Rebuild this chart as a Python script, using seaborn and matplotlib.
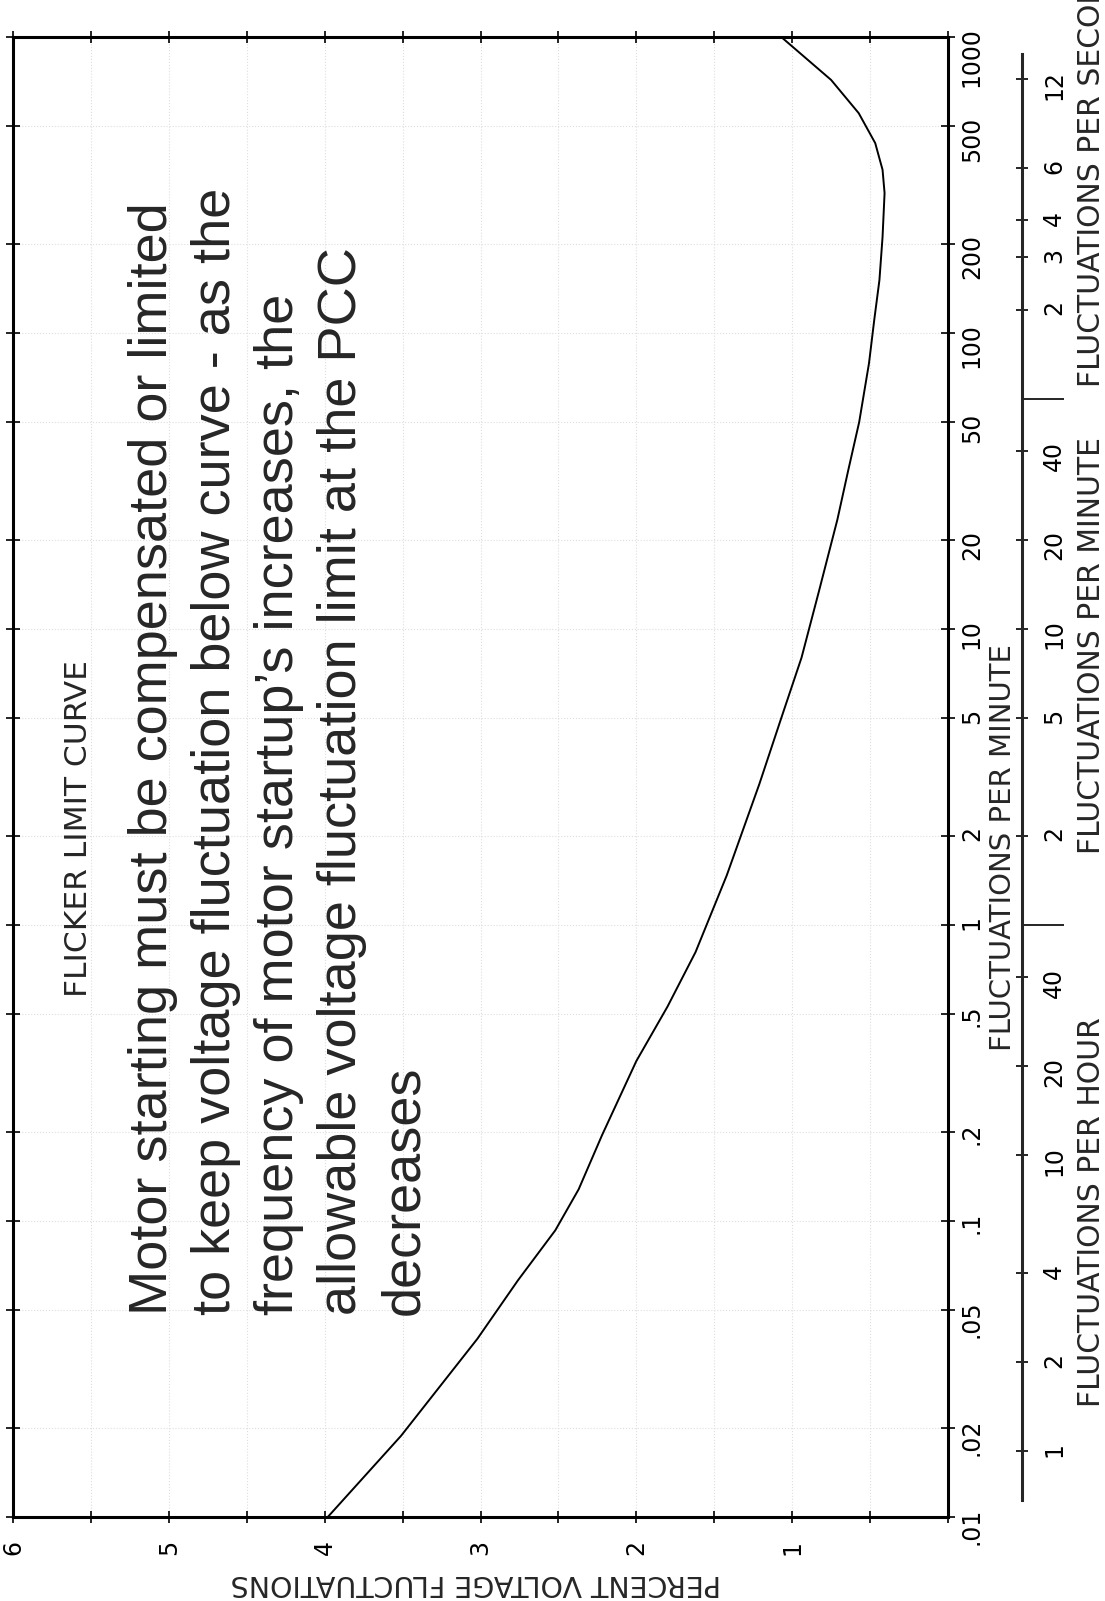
import matplotlib
matplotlib.use('Agg')
import matplotlib.pyplot as plt
import matplotlib.transforms as mtransforms
from matplotlib.ticker import FixedLocator, FixedFormatter, NullFormatter, NullLocator
import seaborn as sns

# flicker limit curve
freq_per_min = [0.01, 0.0188, 0.04, 0.063, 0.093, 0.128, 0.195, 0.347, 0.53, 0.81,
                1.47, 3.0, 5.0, 8.0, 13.3, 23.4, 34.4, 50, 79, 111,
                151, 211, 297, 356, 438, 553, 716, 1000]
pct_voltage = [3.98, 3.51, 3.02, 2.76, 2.52, 2.37, 2.22, 2.00, 1.80, 1.62,
               1.42, 1.21, 1.07, 0.94, 0.83, 0.71, 0.64, 0.57, 0.507, 0.473,
               0.44, 0.42, 0.407, 0.42, 0.467, 0.573, 0.75, 1.07]

# main scales
min_ticks = [0.01, 0.02, 0.05, 0.1, 0.2, 0.5, 1, 2, 5, 10, 20, 50, 100, 200, 500, 1000]
min_tick_labels = ['.01', '.02', '.05', '.1', '.2', '.5', '1', '2', '5', '10',
                   '20', '50', '100', '200', '500', '1000']
pct_ticks = [0, 1, 2, 3, 4, 5, 6]
pct_tick_labels = ['', '1', '2', '3', '4', '5', '6']

# conversion scale on the right
per_second = [2, 3, 4, 6, 12]
per_minute = [2, 5, 10, 20, 40]
per_hour = [1, 2, 4, 10, 20, 40]

note = ("Motor starting must be compensated or limited\n"
        "to keep voltage fluctuation below curve - as the\n"
        "frequency of motor startup\u2019s increases, the\n"
        "allowable voltage fluctuation limit at the PCC\n"
        "decreases")

W, H = 1105, 1601

sns.set_style('white')
plt.rcParams['font.family'] = ['DejaVu Sans']

fig = plt.figure(figsize=(W / 100, H / 100), dpi=100)
ax = fig.add_axes([13 / W, 1 - 1517 / H, 935 / W, 1480 / H])
ax.set_yscale('log')

sns.lineplot(x=pct_voltage, y=freq_per_min, ax=ax, sort=False, estimator=None,
             orient='y', color='black', linewidth=1.4)

ax.set_xlim(6, 0)
ax.set_ylim(0.01, 1000)

# percent axis (bottom)
ax.xaxis.set_major_locator(FixedLocator(pct_ticks))
ax.xaxis.set_major_formatter(FixedFormatter(pct_tick_labels))
ax.xaxis.set_minor_locator(FixedLocator([p + 0.5 for p in pct_ticks[:-1]]))
ax.xaxis.set_minor_formatter(NullFormatter())
ax.tick_params(axis='x', which='both', direction='inout', length=8, width=1.2,
               top=True, bottom=True, labelsize=17, labelrotation=90, pad=12.5,
               colors='black')

# frequency axis (right)
ax.yaxis.tick_right()
ax.yaxis.set_major_locator(FixedLocator(min_ticks))
ax.yaxis.set_major_formatter(FixedFormatter(min_tick_labels))
ax.yaxis.set_minor_locator(NullLocator())
ax.tick_params(axis='y', which='major', direction='inout', length=10, width=1.2,
               left=True, right=True, labelleft=False, labelright=True,
               labelsize=17, labelrotation=90, pad=3.5, colors='black')

ax.grid(True, which='both', axis='x', color='#dedede', linestyle=':', linewidth=0.8)
ax.grid(True, which='major', axis='y', color='#dedede', linestyle=':', linewidth=0.8)
for s in ax.spines.values():
    s.set_linewidth(2.2)
    s.set_color('black')
ax.set_xlabel('')
ax.set_ylabel('')

# second scale: per second / per minute / per hour
ax2 = fig.add_axes([1012 / W, 1 - 1517 / H, 10 / W, 1480 / H])
ax2.set_yscale('log')
ax2.set_ylim(0.01, 1000)
ax2.patch.set_visible(False)
ax2.set_xticks([])
for name in ['left', 'top', 'bottom']:
    ax2.spines[name].set_visible(False)
ax2.spines['right'].set_linewidth(2.2)
ax2.spines['right'].set_bounds(0.0114, 876)
ax2.yaxis.tick_right()
sec_pos = [v * 60 for v in per_second] + per_minute + [v / 60 for v in per_hour]
sec_lab = [str(v) for v in per_second + per_minute + per_hour]
ax2.yaxis.set_major_locator(FixedLocator(sec_pos))
ax2.yaxis.set_major_formatter(FixedFormatter(sec_lab))
ax2.yaxis.set_minor_locator(FixedLocator([1, 60]))
ax2.yaxis.set_minor_formatter(NullFormatter())
ax2.tick_params(axis='y', which='major', direction='inout', length=8, width=1.2,
                labelsize=17, labelrotation=90, pad=10.4, colors='black')
ax2.tick_params(axis='y', which='minor', direction='out', length=30, width=1.2,
                colors='black')

trans = mtransforms.blended_transform_factory(fig.transFigure, ax.transData)
ax.text(1003 / W, 1.82, 'FLUCTUATIONS PER MINUTE', transform=trans, rotation=90,
        ha='center', va='center', fontsize=21)
# runs off the top edge, as in the scan
ax.text(1092 / W, 65.7, 'FLUCTUATIONS PER SECOND', transform=trans, rotation=90,
        rotation_mode='anchor', ha='left', va='center', fontsize=21.5)
ax.text(1092 / W, 8.8, 'FLUCTUATIONS PER MINUTE', transform=trans, rotation=90,
        ha='center', va='center', fontsize=21.5)
ax.text(1092 / W, 0.107, 'FLUCTUATIONS PER HOUR', transform=trans, rotation=90,
        ha='center', va='center', fontsize=21.5)
ax.text(79 / W, 2.11, 'FLICKER LIMIT CURVE', transform=trans, rotation=90,
        ha='center', va='center', fontsize=22.5)

fig.text(476 / W, 1 - 1583 / H, 'PERCENT VOLTAGE FLUCTUATIONS', rotation=180,
         ha='center', va='center', fontsize=20.5)

fig.text(128 / W, 1 - 1315 / H, note, rotation=90, rotation_mode='anchor',
         ha='left', va='top', fontsize=39, family=['Liberation Sans', 'DejaVu Sans'],
         linespacing=1.33, multialignment='left')

fig.savefig('out.png', dpi=100)
